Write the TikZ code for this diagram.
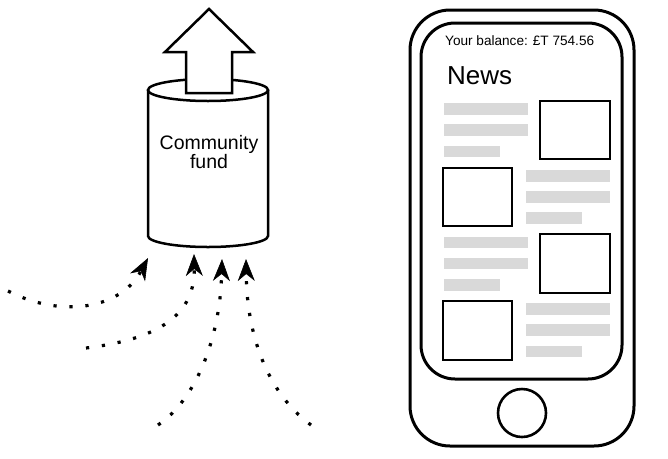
\documentclass[tikz,border=0pt]{standalone}
\usepackage{fontspec}
\setmainfont{Liberation Sans}
\usetikzlibrary{arrows.meta}
\definecolor{barGray}{HTML}{D9D9D9}
\tikzset{
  cyl/.style={line width=2.5pt, fill=white},
  flow/.style={line width=3.2pt, dash pattern=on 3.2pt off 12.8pt,
    -{Stealth[length=22pt,width=17pt,inset=7pt,line width=0.6pt]}},
  phoneline/.style={line width=3pt},
  bar/.style={fill=barGray, draw=none},
  pic/.style={draw, line width=1.6pt},
}
\begin{document}
\begin{tikzpicture}[x=1pt,y=-1pt]
\useasboundingbox (0,0) rectangle (668,458);
% cylinder
\draw[cyl] (148,90) -- (148,236) arc[start angle=180,end angle=0,x radius=60,y radius=11] -- (268,90);
\draw[cyl] (208,90) ellipse[x radius=60,y radius=11];
% up arrow
\draw[cyl, line join=miter] (209,9) -- (253,52) -- (232,52) -- (232,93) -- (186,93) -- (186,52) -- (165,52) -- cycle;
\node[font=\fontsize{19.5}{22}\selectfont, anchor=base] (fundA) at (209,149) {Community};
\node[font=\fontsize{19.5}{22}\selectfont, anchor=base] (fundB) at (209,168) {fund};
% dotted arrows
\coordinate (s1) at (8,291);   \coordinate (t1) at (148,258);
\coordinate (s2) at (86,348);  \coordinate (t2) at (194,254);
\coordinate (s3) at (158,425); \coordinate (t3) at (222,259);
\coordinate (s4) at (311,425); \coordinate (t4) at (246,259);
\draw[flow] (s1) .. controls (60,318) and (120,310) .. (t1);
\draw[flow] (s2) .. controls (150,340) and (195,320) .. (t2);
\draw[flow] (s3) .. controls (195,400) and (220,340) .. (t3);
\draw[flow] (s4) .. controls (270,395) and (247,340) .. (t4);
% phone
\draw[phoneline, rounded corners=40pt] (410,10) rectangle (634,446);
\draw[phoneline, rounded corners=34pt] (421,23) rectangle (622,379);
\draw[line width=2.6pt] (522,413) circle[radius=24];
\node[font=\fontsize{13.6}{16}\selectfont, anchor=base west, inner sep=0pt] (bal) at (445,45) {Your balance: £T 754.56};
\node[font=\fontsize{26}{30}\selectfont, anchor=base west, inner sep=0pt] (news) at (447,84) {News};
% row 1
\fill[bar] (444,103) rectangle (528,115);
\fill[bar] (444,124) rectangle (528,136);
\fill[bar] (444,146) rectangle (500,157);
\draw[pic] (540,101) rectangle (610,159);
% row 2
\draw[pic] (443,168) rectangle (512,226);
\fill[bar] (526,170) rectangle (610,182);
\fill[bar] (526,191) rectangle (610,203);
\fill[bar] (526,212) rectangle (582,224);
% row 3
\fill[bar] (444,237) rectangle (528,248);
\fill[bar] (444,258) rectangle (528,269);
\fill[bar] (444,279) rectangle (500,291);
\draw[pic] (540,234) rectangle (610,293);
% row 4
\draw[pic] (443,301) rectangle (512,360);
\fill[bar] (526,303) rectangle (610,315);
\fill[bar] (526,324) rectangle (610,336);
\fill[bar] (526,346) rectangle (582,357);
\end{tikzpicture}
\end{document}
